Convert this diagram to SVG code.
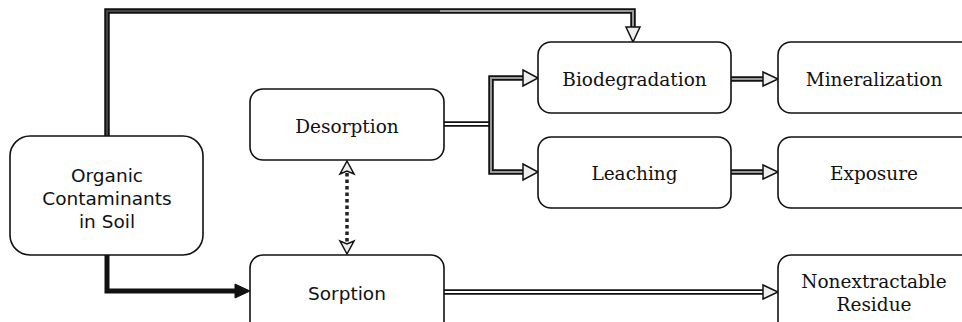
<svg xmlns="http://www.w3.org/2000/svg" width="962" height="322" viewBox="0 0 962 322">
<style>
.box{fill:#fff;stroke:#111;stroke-width:1.6}
.serif{font-family:"DejaVu Serif","Liberation Serif",serif;font-size:18.5px;fill:#111;text-anchor:middle}
.sans{font-family:"DejaVu Sans","Liberation Sans",sans-serif;font-size:18.5px;fill:#111;text-anchor:middle}
.out{fill:none;stroke:#111;stroke-width:5.5;stroke-linejoin:miter}
.inW{fill:none;stroke:#fff;stroke-width:2}
.inG{fill:none;stroke:#999;stroke-width:2}
.inD{fill:none;stroke:#555;stroke-width:1.5}
.solid{fill:none;stroke:#111;stroke-width:5}
.hollow{fill:#eee;stroke:#111;stroke-width:1.5;stroke-linejoin:miter}
.filled{fill:#111;stroke:#111;stroke-width:1}
.dots{fill:none;stroke:#222;stroke-width:3.5;stroke-dasharray:3.5 3}
</style>
<rect width="962" height="322" fill="#fff"/>
<g id="connectors">
  <path class="out" d="M107,136 V11 H633 V28"/>
  <path class="inD" d="M107,136 V11 H440"/>
  <path class="inG" d="M440,11 H633 V28"/>
  <polygon class="hollow" points="626,27 640,27 633,42"/>
  <path class="solid" d="M107,255 V291 H237"/>
  <polygon class="filled" points="235,284 250,291 235,298"/>
  <path class="out" d="M444,124 H491"/>
  <path class="inW" d="M444,124 H489"/>
  <path class="out" d="M524,78 H491 V172 H524"/>
  <path class="inG" d="M524,78 H491 V172 H524"/>
  <polygon class="hollow" points="523,70 538,78 523,86"/>
  <polygon class="hollow" points="523,164 538,172 523,180"/>
  <path class="out" d="M731,79 H765"/>
  <path class="inG" d="M731,79 H765"/>
  <polygon class="hollow" points="763,72 778,79 763,86"/>
  <path class="out" d="M731,172 H765"/>
  <path class="inG" d="M731,172 H765"/>
  <polygon class="hollow" points="763,165 778,172 763,179"/>
  <path class="out" d="M444,292 H765"/>
  <path class="inW" d="M444,292 H765"/>
  <polygon class="hollow" points="763,285 778,292 763,299"/>
  <path class="dots" d="M347,173 V242"/>
  <polygon class="hollow" points="347,161 354,174 347,171 340,174"/>
  <polygon class="hollow" points="347,254 354,241 347,244 340,241"/>
</g>
<g id="organic">
  <rect class="box" x="10" y="136" width="193" height="119" rx="20"/>
  <text class="sans" x="107" y="182">Organic</text>
  <text class="sans" x="107" y="205">Contaminants</text>
  <text class="sans" x="107" y="228">in Soil</text>
</g>
<g id="desorption">
  <rect class="box" x="250" y="89" width="194" height="71" rx="13"/>
  <text class="serif" x="347" y="133">Desorption</text>
</g>
<g id="sorption">
  <rect class="box" x="250" y="255" width="194" height="80" rx="13"/>
  <text class="sans" x="347" y="300">Sorption</text>
</g>
<g id="biodegradation">
  <rect class="box" x="538" y="42" width="193" height="71" rx="13"/>
  <text class="serif" x="634.5" y="86">Biodegradation</text>
</g>
<g id="leaching">
  <rect class="box" x="538" y="137" width="193" height="71" rx="13"/>
  <text class="serif" x="634.5" y="180">Leaching</text>
</g>
<g id="mineralization">
  <rect class="box" x="778" y="42" width="200" height="71" rx="13"/>
  <text class="serif" x="874" y="86">Mineralization</text>
</g>
<g id="exposure">
  <rect class="box" x="778" y="137" width="200" height="71" rx="13"/>
  <text class="serif" x="874" y="180">Exposure</text>
</g>
<g id="nonextractable">
  <rect class="box" x="778" y="255" width="200" height="80" rx="13"/>
  <text class="serif" x="874" y="288">Nonextractable</text>
  <text class="serif" x="874" y="311">Residue</text>
</g>
</svg>
